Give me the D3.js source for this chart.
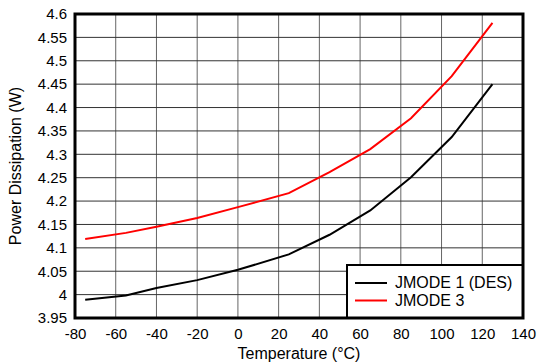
<!DOCTYPE html>
<html>
<head>
<meta charset="utf-8">
<script src="https://cdn.jsdelivr.net/npm/d3@7"></script>
<style>
  body { margin: 0; background: #fff; }
  text { font-family: "Liberation Sans", Arial, sans-serif; fill: #000; }
</style>
</head>
<body>
<div id="grafica"></div>
<script>
// Datos
const temperaturas = [-75, -55, -40, -20, 0, 25, 45, 65, 85, 105, 125]
const jmode1 = [3.989, 3.998, 4.014, 4.031, 4.053, 4.086, 4.128, 4.18, 4.251, 4.337, 4.45]
const jmode3 = [4.119, 4.132, 4.145, 4.164, 4.187, 4.217, 4.262, 4.311, 4.377, 4.467, 4.581]
const series = ["JMODE 1 (DES)", "JMODE 3"]
const colores = ["#000000", "#ff0000"]

const xTicks = [-80, -60, -40, -20, 0, 20, 40, 60, 80, 100, 120, 140]
const xTickLabels = ["-80", "-60", "-40", "-20", "0", "20", "40", "60", "80", "100", "120", "140"]
const yTicks = [3.95, 4, 4.05, 4.1, 4.15, 4.2, 4.25, 4.3, 4.35, 4.4, 4.45, 4.5, 4.55, 4.6]
const yTickLabels = ["3.95", "4", "4.05", "4.1", "4.15", "4.2", "4.25", "4.3", "4.35", "4.4", "4.45", "4.5", "4.55", "4.6"]

const anchoTotal = 538
const altoTotal = 364
const margins = { top: 14, right: 15, bottom: 46, left: 75 }
const ancho = anchoTotal - margins.left - margins.right
const alto = altoTotal - margins.top - margins.bottom

const x = d3.scaleLinear().domain([-80, 140]).range([0, ancho])
const y = d3.scaleLinear().domain([3.95, 4.6]).range([alto, 0])

const svg = d3.select("#grafica").append("svg")
    .attr("width", anchoTotal)
    .attr("height", altoTotal)

const g = svg.append("g")
    .attr("transform", `translate(${margins.left},${margins.top})`)

// Rejilla
g.append("g")
    .selectAll("line")
    .data(xTicks)
    .join("line")
    .attr("x1", d => x(d)).attr("x2", d => x(d))
    .attr("y1", 0).attr("y2", alto)
    .attr("stroke", "#666")
    .attr("stroke-width", 1)

g.append("g")
    .selectAll("line")
    .data(yTicks)
    .join("line")
    .attr("x1", 0).attr("x2", ancho)
    .attr("y1", d => y(d)).attr("y2", d => y(d))
    .attr("stroke", "#333")
    .attr("stroke-width", 1)

// Ejes (solo etiquetas)
const ejeX = g.append("g")
    .attr("transform", `translate(0,${alto})`)
    .call(d3.axisBottom(x).tickValues(xTicks).tickSize(0).tickPadding(10)
        .tickFormat((d, i) => xTickLabels[i]))
ejeX.select(".domain").remove()
ejeX.selectAll("text").attr("font-size", "15px").attr("font-family", "Liberation Sans, Arial, sans-serif")

const ejeY = g.append("g")
    .call(d3.axisLeft(y).tickValues(yTicks).tickSize(0).tickPadding(8)
        .tickFormat((d, i) => yTickLabels[i]))
ejeY.select(".domain").remove()
ejeY.selectAll("text").attr("font-size", "15px").attr("font-family", "Liberation Sans, Arial, sans-serif")

// Lineas
const datos = [jmode1, jmode3]
const linea = d3.line()
    .x((d, i) => x(temperaturas[i]))
    .y(d => y(d))

datos.forEach((serie, k) => {
  g.append("path")
      .datum(serie)
      .attr("fill", "none")
      .attr("stroke", colores[k])
      .attr("stroke-width", 2)
      .attr("d", linea)
})

// Leyenda
const legend = g.append("g")
    .attr("transform", `translate(${ancho - 176},${alto - 53})`)
legend.append("rect")
    .attr("width", 176)
    .attr("height", 53)
    .attr("fill", "#fff")
    .attr("stroke", "#000")
    .attr("stroke-width", 2)

series.forEach((s, i) => {
  const row = legend.append("g")
      .attr("transform", `translate(0,${18 + i * 17.5})`)
  row.append("line")
      .attr("x1", 8).attr("x2", 40)
      .attr("stroke", colores[i])
      .attr("stroke-width", 2)
  row.append("text")
      .attr("x", 48)
      .attr("y", 5)
      .attr("font-size", "16px")
      .text(s)
})

// Marco
g.append("rect")
    .attr("width", ancho)
    .attr("height", alto)
    .attr("fill", "none")
    .attr("stroke", "#000")
    .attr("stroke-width", 3)

// Titulos de ejes
g.append("text")
    .attr("x", ancho / 2)
    .attr("y", alto + 41)
    .attr("text-anchor", "middle")
    .attr("font-size", "16px")
    .text("Temperature (°C)")

g.append("text")
    .attr("transform", "rotate(-90)")
    .attr("x", -alto / 2)
    .attr("y", -54.5)
    .attr("text-anchor", "middle")
    .attr("font-size", "16px")
    .text("Power Dissipation (W)")
</script>
</body>
</html>
